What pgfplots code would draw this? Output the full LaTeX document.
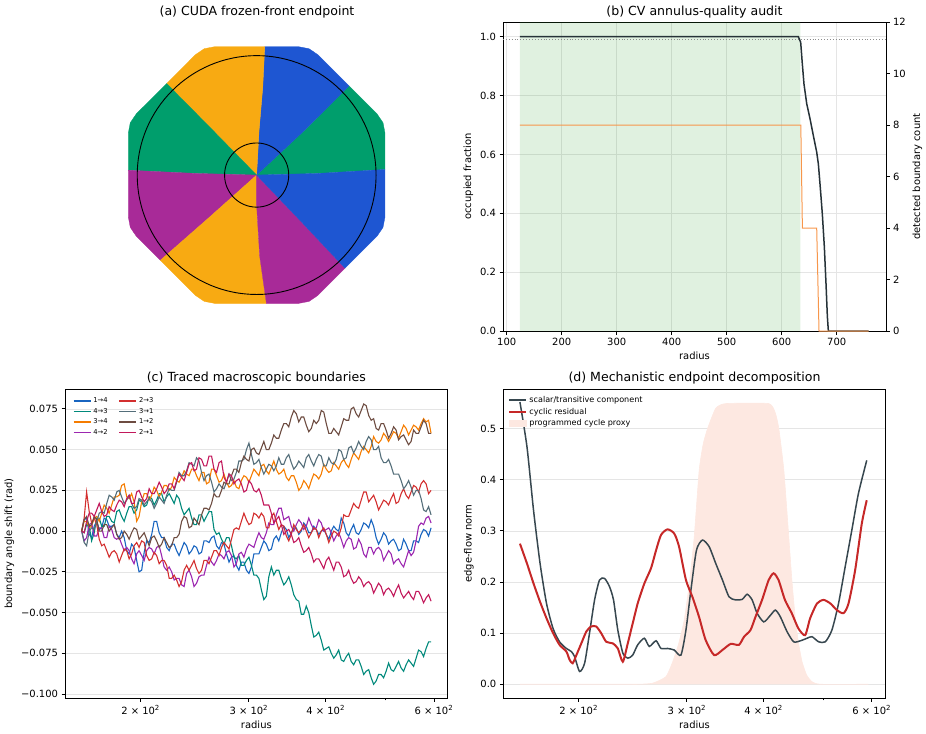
\documentclass[border=0pt]{standalone}
\usepackage{fontspec}
\setmainfont{DejaVu Sans}
\usepackage{pgfplots}
\usepackage{pgfplotstable}
\pgfplotsset{compat=1.18}

% sector colours of the endpoint map
\definecolor{secGreen}{RGB}{0,158,108}
\definecolor{secBlue}{RGB}{30,86,210}
\definecolor{secYellow}{RGB}{248,170,18}
\definecolor{secPurple}{RGB}{168,42,152}
% audit panel
\definecolor{tabgreen}{RGB}{44,160,44}
\definecolor{occDark}{RGB}{38,50,56}
\definecolor{cntOrange}{RGB}{247,150,75}
% boundary traces
\definecolor{b14}{RGB}{25,101,192}
\definecolor{b43}{RGB}{0,137,123}
\definecolor{b34}{RGB}{245,124,0}
\definecolor{b42}{RGB}{156,39,176}
\definecolor{b23}{RGB}{211,47,47}
\definecolor{b31}{RGB}{84,110,122}
\definecolor{b12}{RGB}{109,76,65}
\definecolor{b21}{RGB}{194,24,91}
% decomposition
\definecolor{scalarC}{RGB}{55,71,79}
\definecolor{cyclicC}{RGB}{198,40,40}
\definecolor{proxyC}{RGB}{253,232,225}

\pgfplotsset{
  panel/.style={
    scale only axis,
    axis line style={black, line width=0.8bp},
    every tick/.style={black, line width=0.8bp},
    tick align=outside, tick pos=left,
    major tick length=3.5bp, minor tick length=2bp,
    label style={font=\fontsize{10}{12}\selectfont},
    tick label style={font=\fontsize{10}{12}\selectfont},
    /pgf/number format/assume math mode=true,
    grid style={black!10, line width=0.6bp},
  },
  logr/.style={
    xtick={200,300,400,600},
    xticklabels={2 × 10\textsuperscript{2},3 × 10\textsuperscript{2},4 × 10\textsuperscript{2},6 × 10\textsuperscript{2}},
    minor xtick={500},
  },
}

% traced boundary angle shifts (rad) against radius
\pgfplotstableread{
r s14 s43 s34 s42 s23 s31 s12 s21
160.4 0.000 0.000 0.000 0.000 0.000 0.000 0.000 0.000
161.9 0.007 -0.001 0.006 -0.006 0.008 -0.007 0.007 -0.001
163.4 0.008 0.004 0.006 -0.004 0.024 -0.009 0.009 0.006
165.0 -0.002 0.003 0.002 0.004 0.012 0.000 0.003 0.011
166.5 -0.004 -0.006 0.003 0.005 0.005 0.002 0.004 0.011
168.1 0.003 -0.001 0.008 -0.003 0.008 0.001 0.009 0.009
169.7 0.006 0.008 0.009 -0.003 0.004 0.006 0.007 0.013
171.3 0.001 0.008 0.006 0.002 -0.005 0.011 0.000 0.017
172.9 0.002 0.003 0.011 0.002 -0.009 0.012 0.000 0.012
174.5 0.008 0.003 0.016 -0.004 -0.008 0.011 0.004 0.009
176.2 0.007 0.009 0.014 -0.004 -0.012 0.017 0.004 0.010
177.8 0.003 0.009 0.011 0.003 -0.016 0.022 0.000 0.015
179.5 0.003 0.006 0.016 0.001 -0.013 0.021 0.002 0.013
181.2 0.004 0.005 0.021 -0.004 -0.012 0.019 0.004 0.012
182.9 -0.002 0.012 0.021 -0.005 -0.014 0.024 -0.002 0.016
184.6 -0.004 0.013 0.022 -0.004 -0.019 0.025 -0.005 0.019
186.3 0.000 0.009 0.028 -0.008 -0.015 0.021 -0.004 0.018
188.1 -0.004 0.006 0.029 -0.012 -0.011 0.017 0.000 0.015
189.9 -0.012 0.011 0.021 -0.010 -0.012 0.019 -0.002 0.020
191.6 -0.014 0.015 0.020 -0.012 -0.017 0.022 -0.005 0.022
193.4 -0.008 0.015 0.023 -0.017 -0.014 0.017 -0.001 0.017
195.2 -0.010 0.011 0.018 -0.020 -0.009 0.014 0.002 0.017
197.1 -0.018 0.013 0.006 -0.014 -0.007 0.015 0.001 0.024
198.9 -0.025 0.019 0.009 -0.012 -0.010 0.020 -0.005 0.025
200.8 -0.024 0.018 0.018 -0.015 -0.006 0.019 -0.003 0.021
202.7 -0.013 0.015 0.023 -0.018 -0.007 0.016 -0.001 0.018
204.6 -0.006 0.016 0.023 -0.012 -0.015 0.018 -0.005 0.020
206.5 -0.007 0.021 0.019 -0.010 -0.018 0.020 -0.009 0.026
208.5 -0.002 0.020 0.022 -0.011 -0.017 0.018 -0.004 0.023
210.4 0.006 0.016 0.027 -0.014 -0.013 0.014 -0.003 0.023
212.4 0.006 0.019 0.025 -0.010 -0.015 0.017 -0.006 0.026
214.4 -0.001 0.023 0.021 -0.009 -0.020 0.021 -0.010 0.030
216.4 -0.004 0.023 0.024 -0.015 -0.018 0.019 -0.008 0.027
218.4 -0.004 0.018 0.028 -0.022 -0.018 0.017 -0.004 0.023
220.5 -0.010 0.021 0.028 -0.024 -0.021 0.022 -0.007 0.025
222.6 -0.012 0.023 0.025 -0.022 -0.029 0.026 -0.010 0.029
224.7 -0.008 0.020 0.027 -0.025 -0.029 0.025 -0.009 0.029
226.8 -0.008 0.017 0.033 -0.030 -0.027 0.025 -0.004 0.026
228.9 -0.012 0.022 0.031 -0.029 -0.030 0.030 -0.004 0.031
231.0 -0.015 0.020 0.030 -0.029 -0.034 0.036 -0.002 0.035
233.2 -0.011 0.014 0.033 -0.033 -0.031 0.034 0.006 0.033
235.4 -0.007 0.010 0.037 -0.034 -0.024 0.034 0.009 0.031
237.6 -0.009 0.012 0.035 -0.026 -0.021 0.037 0.008 0.036
239.8 -0.014 0.014 0.034 -0.024 -0.024 0.042 0.002 0.041
242.1 -0.012 0.008 0.038 -0.028 -0.021 0.041 0.003 0.042
244.3 -0.009 0.004 0.038 -0.034 -0.018 0.040 0.008 0.037
246.6 -0.010 0.004 0.034 -0.032 -0.023 0.045 0.006 0.038
248.9 -0.014 0.010 0.031 -0.028 -0.026 0.043 0.004 0.045
251.3 -0.013 0.010 0.036 -0.027 -0.024 0.036 0.010 0.044
253.6 -0.006 0.006 0.036 -0.027 -0.018 0.031 0.014 0.040
256.0 -0.006 0.009 0.029 -0.021 -0.018 0.034 0.014 0.040
258.4 -0.007 0.012 0.030 -0.016 -0.020 0.035 0.013 0.046
260.9 -0.004 0.012 0.038 -0.019 -0.016 0.030 0.017 0.046
263.3 -0.003 0.001 0.038 -0.021 -0.012 0.024 0.023 0.038
265.8 -0.009 -0.002 0.034 -0.018 -0.012 0.026 0.021 0.036
268.3 -0.011 -0.001 0.030 -0.014 -0.015 0.029 0.021 0.042
270.8 -0.007 -0.005 0.031 -0.015 -0.010 0.027 0.025 0.043
273.3 -0.008 -0.008 0.035 -0.017 -0.007 0.026 0.030 0.033
275.9 -0.014 -0.004 0.030 -0.013 -0.009 0.030 0.029 0.030
278.5 -0.019 -0.004 0.027 -0.012 -0.011 0.035 0.029 0.035
281.1 -0.016 -0.009 0.028 -0.015 -0.005 0.031 0.034 0.034
283.7 -0.015 -0.016 0.031 -0.022 0.001 0.032 0.038 0.029
286.3 -0.021 -0.017 0.027 -0.020 0.002 0.036 0.038 0.031
289.0 -0.024 -0.015 0.026 -0.014 0.001 0.043 0.036 0.032
291.7 -0.019 -0.021 0.031 -0.013 0.006 0.043 0.042 0.029
294.5 -0.019 -0.021 0.034 -0.016 0.011 0.044 0.046 0.024
297.3 -0.024 -0.018 0.033 -0.011 0.007 0.050 0.044 0.025
300.1 -0.026 -0.016 0.030 -0.008 0.004 0.054 0.043 0.031
302.9 -0.022 -0.021 0.034 -0.009 0.005 0.047 0.050 0.029
305.7 -0.014 -0.027 0.038 -0.010 0.011 0.041 0.051 0.025
308.6 -0.014 -0.027 0.036 -0.005 0.010 0.042 0.048 0.024
311.5 -0.014 -0.029 0.034 -0.001 0.008 0.044 0.047 0.026
314.4 -0.010 -0.036 0.040 -0.004 0.011 0.039 0.051 0.022
317.3 -0.006 -0.042 0.041 -0.005 0.009 0.035 0.055 0.016
320.3 -0.008 -0.040 0.037 -0.001 0.002 0.038 0.050 0.016
323.3 -0.012 -0.028 0.035 0.005 0.002 0.041 0.050 0.016
326.4 -0.011 -0.022 0.039 0.004 0.009 0.040 0.054 0.011
329.4 -0.005 -0.027 0.043 0.004 0.011 0.037 0.059 0.005
332.5 -0.003 -0.024 0.038 0.010 0.006 0.040 0.057 0.007
335.6 -0.006 -0.024 0.035 0.014 0.001 0.045 0.057 0.009
338.8 -0.001 -0.029 0.036 0.014 0.004 0.041 0.062 0.004
342.0 0.003 -0.033 0.038 0.007 0.003 0.041 0.066 -0.002
345.2 0.001 -0.031 0.033 0.008 -0.003 0.045 0.066 0.000
348.4 -0.004 -0.028 0.031 0.009 -0.006 0.047 0.064 0.001
351.7 -0.001 -0.033 0.034 0.003 -0.002 0.042 0.070 -0.002
355.0 0.002 -0.039 0.034 0.000 0.004 0.038 0.074 -0.007
358.4 0.002 -0.042 0.030 0.004 0.001 0.040 0.072 -0.006
361.7 -0.002 -0.043 0.025 0.007 -0.001 0.043 0.067 -0.004
365.1 0.000 -0.051 0.027 0.005 0.001 0.041 0.070 -0.009
368.5 0.005 -0.051 0.031 0.001 0.004 0.039 0.070 -0.013
372.0 0.003 -0.046 0.029 0.003 0.000 0.045 0.065 -0.012
375.5 -0.001 -0.050 0.026 0.008 -0.004 0.047 0.061 -0.010
379.1 -0.001 -0.058 0.031 0.004 -0.001 0.043 0.063 -0.014
382.6 0.003 -0.065 0.035 0.001 0.002 0.040 0.068 -0.019
386.2 0.001 -0.064 0.034 0.002 0.001 0.044 0.066 -0.017
389.8 -0.002 -0.062 0.032 0.007 -0.004 0.047 0.068 -0.017
393.5 0.000 -0.067 0.035 0.005 0.000 0.046 0.074 -0.020
397.2 0.001 -0.073 0.041 0.000 0.002 0.040 0.073 -0.023
400.9 -0.002 -0.072 0.038 0.001 -0.002 0.040 0.066 -0.018
404.7 -0.005 -0.071 0.036 0.002 -0.007 0.045 0.060 -0.016
408.5 0.000 -0.075 0.037 -0.001 -0.003 0.042 0.060 -0.020
412.3 0.003 -0.078 0.042 -0.006 0.000 0.041 0.063 -0.024
416.1 0.001 -0.076 0.040 -0.003 -0.001 0.044 0.061 -0.019
420.0 0.000 -0.073 0.038 -0.001 -0.003 0.050 0.059 -0.019
424.0 0.008 -0.079 0.042 -0.005 0.002 0.049 0.064 -0.022
428.0 0.005 -0.080 0.044 -0.010 0.010 0.044 0.069 -0.028
432.0 -0.001 -0.077 0.041 -0.006 0.009 0.045 0.068 -0.027
436.0 -0.003 -0.075 0.039 -0.004 0.009 0.051 0.068 -0.024
440.1 0.001 -0.080 0.044 -0.005 0.013 0.052 0.075 -0.029
444.2 0.004 -0.082 0.048 -0.011 0.017 0.048 0.076 -0.032
448.4 -0.001 -0.079 0.046 -0.010 0.015 0.051 0.072 -0.031
452.6 -0.002 -0.079 0.044 -0.005 0.014 0.055 0.070 -0.028
456.9 0.001 -0.083 0.049 -0.008 0.019 0.052 0.074 -0.030
461.2 0.005 -0.088 0.052 -0.014 0.024 0.050 0.078 -0.034
465.5 0.004 -0.086 0.050 -0.016 0.024 0.055 0.077 -0.032
469.9 0.002 -0.085 0.048 -0.010 0.018 0.058 0.071 -0.031
474.3 0.007 -0.090 0.052 -0.010 0.020 0.056 0.068 -0.033
478.7 0.003 -0.094 0.058 -0.014 0.022 0.050 0.069 -0.038
483.2 -0.004 -0.092 0.055 -0.011 0.018 0.050 0.063 -0.035
487.7 -0.008 -0.088 0.054 -0.010 0.013 0.052 0.062 -0.032
492.3 -0.005 -0.088 0.056 -0.012 0.016 0.045 0.066 -0.034
496.9 -0.001 -0.090 0.060 -0.018 0.019 0.042 0.066 -0.039
501.6 -0.003 -0.086 0.058 -0.015 0.018 0.042 0.062 -0.036
506.3 -0.008 -0.081 0.055 -0.012 0.016 0.044 0.057 -0.035
511.1 -0.006 -0.085 0.058 -0.014 0.020 0.040 0.060 -0.037
515.9 -0.005 -0.086 0.061 -0.020 0.023 0.035 0.064 -0.040
520.7 -0.008 -0.083 0.060 -0.018 0.017 0.035 0.062 -0.036
525.6 -0.012 -0.080 0.057 -0.017 0.018 0.035 0.056 -0.033
530.6 -0.011 -0.084 0.061 -0.020 0.023 0.031 0.058 -0.038
535.6 -0.005 -0.086 0.065 -0.022 0.026 0.026 0.059 -0.041
540.6 -0.008 -0.082 0.063 -0.017 0.022 0.028 0.056 -0.039
545.7 -0.012 -0.079 0.059 -0.012 0.020 0.031 0.053 -0.037
550.8 -0.012 -0.081 0.062 -0.015 0.024 0.027 0.055 -0.040
556.0 -0.006 -0.083 0.065 -0.013 0.028 0.022 0.062 -0.042
561.2 -0.006 -0.078 0.064 -0.006 0.027 0.025 0.060 -0.037
566.5 -0.007 -0.073 0.062 0.003 0.024 0.025 0.060 -0.037
571.8 -0.002 -0.074 0.066 0.005 0.029 0.020 0.064 -0.040
577.2 0.001 -0.077 0.069 0.004 0.031 0.013 0.068 -0.044
582.6 0.000 -0.072 0.067 0.008 0.029 0.012 0.066 -0.041
588.1 -0.003 -0.068 0.068 0.009 0.023 0.015 0.060 -0.039
593.6 0.002 -0.068 0.060 0.005 0.025 0.010 0.060 -0.043
}\boundaries

% edge-flow decomposition
\pgfplotstableread{
r v
160.5 0.552
164.8 0.464
168.9 0.340
173.1 0.236
177.3 0.158
181.7 0.109
186.2 0.083
191.0 0.070
194.6 0.064
197.0 0.054
200.7 0.025
204.5 0.041
208.3 0.100
212.3 0.165
216.3 0.204
220.4 0.207
224.5 0.191
227.9 0.165
231.6 0.106
236.0 0.061
240.4 0.051
244.9 0.057
249.5 0.077
255.8 0.090
260.6 0.074
267.3 0.085
272.3 0.070
279.0 0.070
286.1 0.067
293.4 0.057
299.0 0.106
304.6 0.184
311.0 0.262
318.1 0.282
326.2 0.269
334.4 0.236
342.8 0.204
351.4 0.171
360.1 0.165
369.2 0.166
376.1 0.176
383.2 0.165
390.4 0.139
400.3 0.122
410.4 0.135
418.1 0.145
425.9 0.132
436.7 0.103
447.7 0.083
459.3 0.085
470.8 0.090
479.6 0.093
491.7 0.083
504.1 0.083
516.7 0.106
529.7 0.158
543.1 0.230
556.7 0.301
570.7 0.373
588.8 0.438
}\scalarflow

\pgfplotstableread{
r v
160.5 0.275
164.8 0.236
168.9 0.197
173.1 0.161
177.3 0.129
181.7 0.100
186.2 0.077
191.0 0.064
193.3 0.048
195.6 0.041
198.3 0.057
202.0 0.080
205.8 0.103
209.6 0.113
213.6 0.113
217.6 0.100
221.8 0.083
227.3 0.080
231.6 0.070
236.0 0.044
240.4 0.080
244.9 0.119
249.5 0.158
255.8 0.197
262.3 0.227
267.3 0.262
272.3 0.292
279.0 0.303
286.1 0.295
291.4 0.269
299.0 0.204
306.3 0.171
314.0 0.132
321.8 0.087
332.3 0.057
342.8 0.067
353.6 0.079
364.7 0.077
371.8 0.093
380.9 0.106
388.1 0.132
397.8 0.165
407.7 0.204
415.3 0.217
423.0 0.204
433.3 0.165
444.5 0.139
455.8 0.109
467.4 0.096
476.2 0.129
488.6 0.158
500.9 0.165
513.7 0.158
526.6 0.145
539.7 0.139
549.9 0.158
563.7 0.223
577.9 0.314
588.8 0.360
}\cyclicflow

\pgfplotstableread{
r v
160.4 0
245.0 0
263.7 0.002
277.5 0.015
284.5 0.044
291.0 0.080
297.1 0.126
303.0 0.200
308.4 0.288
314.2 0.419
319.0 0.470
324.2 0.500
334.4 0.540
347.1 0.549
407.9 0.549
418.1 0.530
423.5 0.500
431.5 0.419
439.6 0.288
445.0 0.200
450.7 0.126
456.0 0.080
462.0 0.044
470.0 0.018
479.5 0.005
495.0 0
592.4 0
}\cycleproxy

\begin{document}
\begin{tikzpicture}
\path[use as bounding box] (0,0) rectangle (926bp,-734bp);

% ---------------- (a) endpoint map ----------------
\node[font=\fontsize{12.6}{15}\selectfont] at (257bp,-12bp) {(a) CUDA frozen-front endpoint};
\begin{axis}[scale only axis, hide axis, width=284.3bp, height=284.3bp,
  xmin=-700, xmax=700, ymin=-700, ymax=700,
  at={(114.5bp,-317.2bp)}, anchor=south west]
\addplot[fill=secGreen, draw=secGreen, line width=0.3bp] coordinates {(0,0) (300,8) (632,27.6) (632,206.8) (622.3,257.8) (593.1,300.7) (454.7,439.1) (230,215) (0,0)};
\addplot[fill=secBlue, draw=secBlue, line width=0.3bp] coordinates {(0,0) (230,215) (454.7,439.1) (300.7,593.1) (257.8,622.3) (206.8,632) (40,632) (30,430) (12,220) (0,0)};
\addplot[fill=secYellow, draw=secYellow, line width=0.3bp] coordinates {(0,0) (12,220) (30,430) (40,632) (-206.8,632) (-257.8,622.3) (-300.7,593.1) (-443,450.6) (-220,225) (0,0)};
\addplot[fill=secGreen, draw=secGreen, line width=0.3bp] coordinates {(0,0) (-220,225) (-443,450.6) (-593.1,300.7) (-622.3,257.8) (-632,206.8) (-632,24) (-300,8) (0,0)};
\addplot[fill=secPurple, draw=secPurple, line width=0.3bp] coordinates {(0,0) (-300,8) (-632,24) (-632,-206.8) (-622.3,-257.8) (-593.1,-300.7) (-474,-419.5) (-235,-210) (0,0)};
\addplot[fill=secYellow, draw=secYellow, line width=0.3bp] coordinates {(0,0) (-235,-210) (-474,-419.5) (-300.7,-593.1) (-257.8,-622.3) (-206.8,-632) (48,-632) (15,-400) (0,-150) (0,0)};
\addplot[fill=secPurple, draw=secPurple, line width=0.3bp] coordinates {(0,0) (0,-150) (15,-400) (48,-632) (206.8,-632) (257.8,-622.3) (300.7,-593.1) (435.2,-458.6) (220,-230) (0,0)};
\addplot[fill=secBlue, draw=secBlue, line width=0.3bp] coordinates {(0,0) (220,-230) (435.2,-458.6) (593.1,-300.7) (622.3,-257.8) (632,-206.8) (632,27.6) (300,8) (0,0)};
\draw[black, line width=0.9bp] (axis cs:0,0) circle[radius=588];
\draw[black, line width=0.9bp] (axis cs:0,0) circle[radius=158];
\end{axis}

% ---------------- (b) annulus audit ----------------
\node[font=\fontsize{12.6}{15}\selectfont] at (694.5bp,-12bp) {(b) CV annulus-quality audit};
\begin{axis}[panel, at={(503bp,-331bp)}, anchor=south west, width=383bp, height=309bp,
  xmin=93.3, xmax=789.6, ymin=0, ymax=1.05,
  xtick={100,200,300,400,500,600,700},
  ytick={0,0.2,0.4,0.6,0.8,1.0},
  yticklabel style={/pgf/number format/.cd, fixed, fixed zerofill, precision=1},
  xmajorgrids, ymajorgrids,
  xlabel={radius}, ylabel={occupied fraction}]
\addplot[draw=none, fill=tabgreen, fill opacity=0.15] coordinates {(124,0) (634,0) (634,1.05) (124,1.05) (124,0)};
\addplot[black!45, dotted, line width=0.9bp] coordinates {(93.3,0.99) (789.6,0.99)};
\addplot[occDark, line width=1.5bp] coordinates {
(124,1.0) (630.2,1.0) (634.5,0.981) (637.5,0.907) (640.5,0.839) (645.5,0.772)
(651.5,0.721) (657.5,0.664) (663.6,0.608) (666.6,0.568) (669.6,0.500)
(673.8,0.399) (677.5,0.286) (680.5,0.162) (683,0.049) (684.8,0) (758,0)};
\end{axis}
\begin{axis}[panel, at={(503bp,-331bp)}, anchor=south west, width=383bp, height=309bp,
  xmin=93.3, xmax=789.6, ymin=0, ymax=12,
  axis x line=none, axis y line*=right,
  ytick pos=right, yticklabel pos=right,
  ytick={0,2,4,6,8,10,12},
  ylabel={detected boundary count}]
\addplot[cntOrange, line width=1bp] coordinates {(124,8) (634.7,8) (637.6,4) (663.6,4) (667.8,0) (758,0)};
\end{axis}

% ---------------- (c) boundary traces ----------------
\node[font=\fontsize{12.6}{15}\selectfont] at (256.3bp,-378bp) {(c) Traced macroscopic boundaries};
\begin{axis}[panel, xmode=log, logr, at={(65bp,-698.3bp)}, anchor=south west, width=382.7bp, height=309.3bp,
  xmin=150.7, xmax=631.8, ymin=-0.1026, ymax=0.0872,
  ytick={-0.1,-0.075,-0.05,-0.025,0,0.025,0.05,0.075},
  yticklabels={−0.100,−0.075,−0.050,−0.025,0.000,0.025,0.050,0.075},
  ymajorgrids,
  xlabel={radius}, ylabel={boundary angle shift (rad)},
  legend columns=2,
  legend cell align=left,
  legend style={draw=none, fill=none, at={(0.012,0.985)}, anchor=north west,
    font=\fontsize{6.8}{8}\selectfont,
    /tikz/every even column/.append style={column sep=9bp}},
  every axis plot/.append style={line width=1.1bp}]
\addplot[b14, forget plot] table[x=r, y=s14] {\boundaries};
\addplot[b43, forget plot] table[x=r, y=s43] {\boundaries};
\addplot[b34, forget plot] table[x=r, y=s34] {\boundaries};
\addplot[b42, forget plot] table[x=r, y=s42] {\boundaries};
\addplot[b23, forget plot] table[x=r, y=s23] {\boundaries};
\addplot[b31, forget plot] table[x=r, y=s31] {\boundaries};
\addplot[b12, forget plot] table[x=r, y=s12] {\boundaries};
\addplot[b21, forget plot] table[x=r, y=s21] {\boundaries};
\addlegendimage{b14, line width=1.5bp}\addlegendentry{1→4}
\addlegendimage{b23, line width=1.5bp}\addlegendentry{2→3}
\addlegendimage{b43, line width=1.5bp}\addlegendentry{4→3}
\addlegendimage{b31, line width=1.5bp}\addlegendentry{3→1}
\addlegendimage{b34, line width=1.5bp}\addlegendentry{3→4}
\addlegendimage{b12, line width=1.5bp}\addlegendentry{1→2}
\addlegendimage{b42, line width=1.5bp}\addlegendentry{4→2}
\addlegendimage{b21, line width=1.5bp}\addlegendentry{2→1}
\end{axis}

% ---------------- (d) decomposition ----------------
\node[font=\fontsize{12.6}{15}\selectfont] at (694.5bp,-378bp) {(d) Mechanistic endpoint decomposition};
\begin{axis}[panel, xmode=log, logr, at={(503.3bp,-698.3bp)}, anchor=south west, width=382.4bp, height=309.3bp,
  xmin=150.8, xmax=632.2, ymin=-0.0275, ymax=0.5775,
  ytick={0,0.1,0.2,0.3,0.4,0.5},
  yticklabel style={/pgf/number format/.cd, fixed, fixed zerofill, precision=1},
  ymajorgrids,
  xlabel={radius}, ylabel={edge-flow norm},
  legend cell align=left,
  legend style={draw=none, fill=none, at={(0.005,0.99)}, anchor=north west,
    font=\fontsize{8.1}{9.5}\selectfont}]
\addplot[draw=proxyC, fill=proxyC, line width=0.6bp, smooth, tension=0.3, forget plot] table[x=r, y=v] {\cycleproxy};
\addplot[scalarC, line width=1.5bp, smooth, tension=0.4] table[x=r, y=v] {\scalarflow};
\addlegendentry{scalar/transitive component}
\addplot[cyclicC, line width=2bp, smooth, tension=0.4] table[x=r, y=v] {\cyclicflow};
\addlegendentry{cyclic residual}
\addlegendimage{area legend, draw=proxyC, fill=proxyC}
\addlegendentry{programmed cycle proxy}
\end{axis}
\end{tikzpicture}
\end{document}
